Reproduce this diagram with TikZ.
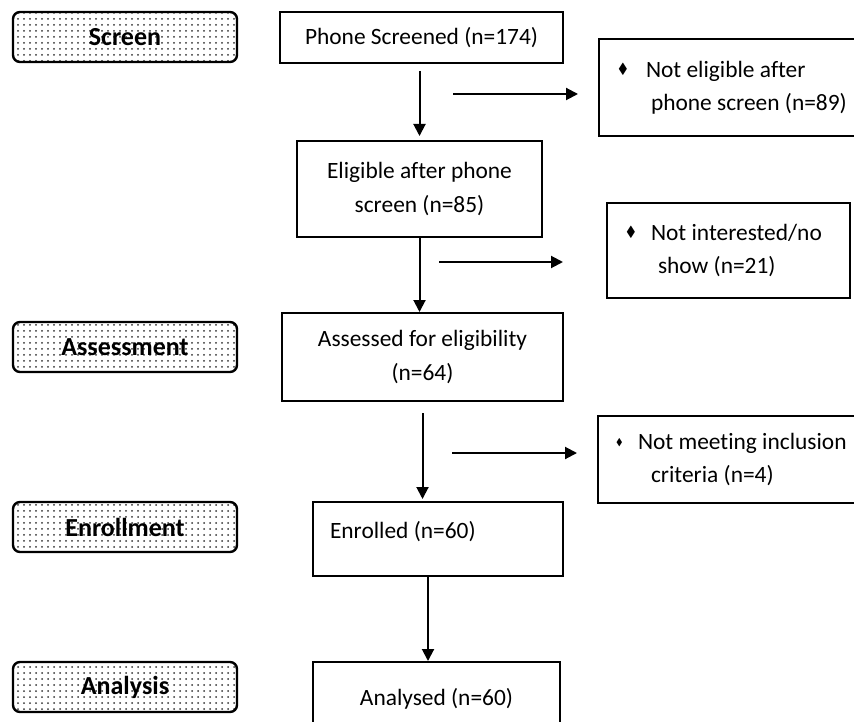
\documentclass[tikz,border=0pt]{standalone}
\usepackage{fontspec}
\usepackage{amssymb}
\usepackage{graphicx}
\setmainfont{Carlito}[Ligatures=NoCommon]
\usetikzlibrary{arrows.meta,patterns}
\definecolor{stagedots}{RGB}{50,50,50}
\newcommand{\bul}[1]{\raisebox{0.35ex}{\scalebox{#1}{$\blacklozenge$}}}

\begin{document}
\begin{tikzpicture}[x=0.5pt,y=-0.5pt,
  stagebox/.style={draw,line width=1.2pt,rounded corners=3.5pt,pattern=dots,pattern color=stagedots,
    minimum width=112pt,minimum height=25pt,inner sep=0pt,font=\fontsize{13}{15}\selectfont\bfseries},
  mainbox/.style={draw,line width=1pt,inner sep=0pt,align=flush center,font=\fontsize{11.7}{16.7}\selectfont},
  sidebox/.style={draw,line width=1pt,anchor=north west,inner xsep=9.5pt,inner ysep=0pt,align=flush left,
    font=\fontsize{11.7}{16.7}\selectfont},
  flow/.style={line width=1pt,-{Triangle[length=6pt,width=6pt]}}]
% Page frame
\useasboundingbox (0,0) rectangle (854,721);
\clip (0,0) rectangle (854,721);
% Draw the stage labels
\node[stagebox] (screen) at (125,37) {Screen};
\node[stagebox] (assessment) at (125,347) {Assessment};
\node[stagebox] (enrollment) at (125,527) {Enrollment};
\node[stagebox] (analysis) at (125,687) {Analysis};
% Draw the main boxes
\node[mainbox,minimum width=141.5pt,minimum height=25.5pt] (phone) at (421.5,37.5) {Phone Screened (n=174)};
\node[mainbox,minimum width=122.5pt,minimum height=48pt] (eligible) at (419.5,189) {Eligible after phone\\screen (n=85)};
\node[mainbox,minimum width=140.5pt,minimum height=44pt] (assessed) at (422.5,357) {Assessed for eligibility\\(n=64)};
\node[mainbox,align=flush left,inner xsep=8.5pt,text width=108pt,text depth=9pt,minimum height=37pt] (enrolled) at (438,539) {Enrolled (n=60)};
\node[mainbox,minimum width=123.5pt,minimum height=37pt] (analysed) at (436.5,699) {Analysed (n=60)};
% Draw the exclusion boxes
\node[sidebox,text width=122pt,minimum height=48.5pt] (noelig) at (598,38)
  {\makebox[14pt][l]{\bul{0.62}}Not eligible after\\\hspace*{16.5pt}phone screen (n=89)};
\node[sidebox,text width=102.5pt,minimum height=47.5pt] (noint) at (606,202)
  {\makebox[12.5pt][l]{\bul{0.62}}Not interested/no\\\hspace*{16pt}show (n=21)};
\node[sidebox,inner xsep=9pt,text width=123pt,minimum height=43.5pt] (nomeet) at (597,415)
  {\makebox[11pt][l]{\bul{0.42}}Not meeting inclusion\\\hspace*{17.5pt}criteria (n=4)};
% Draw the flow arrows
\draw[flow,shorten <=3.5pt,shorten >=2pt] (eligible.north |- phone.south) -- (eligible.north);
\draw[flow] (eligible.south) -- (eligible.south |- assessed.north);
\draw[flow,shorten <=5.5pt,shorten >=1pt] (assessed.south) -- (assessed.south |- enrolled.north);
\draw[flow] ([xshift=-5pt]enrolled.south) -- ([xshift=-5pt]enrolled.south |- analysed.north);
% Draw the exclusion arrows
\coordinate (out1) at (453,94);
\coordinate (out2) at (439,262);
\coordinate (out3) at (452,453);
\draw[flow,shorten >=10pt] (out1) -- (out1 -| noelig.west);
\draw[flow,shorten >=21.5pt] (out2) -- (out2 -| noint.west);
\draw[flow,shorten >=10pt] (out3) -- (out3 -| nomeet.west);
\end{tikzpicture}
\end{document}
